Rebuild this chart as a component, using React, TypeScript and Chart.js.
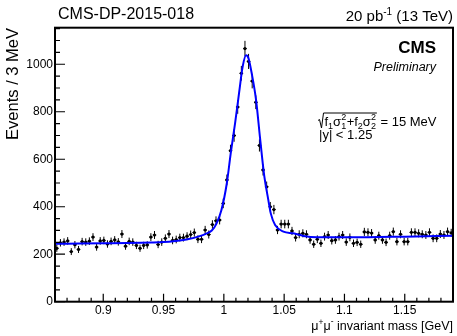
import React, { useEffect, useRef } from "react";
import { Chart, registerables } from "chart.js";
Chart.register(...registerables);

// Histogram binning (3 MeV bins)
const binLow = 0.86;
const binWidth = 0.003;
// Events per 3 MeV bin
const counts = [
  225, 248, 251, 256, 211, 240, 220, 253, 251, 255,
  272, 230, 256, 258, 243, 254, 260, 252, 285, 234,
  254, 251, 237, 225, 237, 239, 272, 281, 241, 251,
  267, 285, 258, 262, 270, 270, 276, 283, 291, 263,
  263, 302, 283, 325, 341, 344, 414, 513, 636, 700,
  820, 962, 1066, 1012, 929, 840, 658, 555, 484, 400,
  388, 302, 327, 327, 327, 298, 270, 284, 288, 284,
  260, 242, 263, 246, 274, 281, 257, 260, 274, 281,
  251, 271, 246, 250, 242, 294, 292, 289, 260, 278,
  260, 250, 278, 295, 253, 284, 253, 253, 292, 292,
  288, 284, 281, 292, 267, 267, 285, 281, 295, 290,
];
// Fit curve
const fitMass = [0.86, 0.88, 0.9, 0.92, 0.94, 0.95, 0.96, 0.97, 0.98, 0.985, 0.99, 0.994, 0.998, 1.0025, 1.0057, 1.0093, 1.0126, 1.0156, 1.0184, 1.0203, 1.0231, 1.0267, 1.03, 1.0335, 1.0369, 1.0389, 1.0425, 1.0494, 1.0576, 1.0659, 1.077, 1.105, 1.15, 1.19];
const fitValue = [244, 245, 246, 247, 249, 251, 256, 263, 276, 286, 300, 330, 386, 500, 625, 751, 878, 990, 1038, 1027, 962, 850, 690, 530, 428, 372, 323, 295, 288, 277, 271, 271, 274, 278];

const xRange = [0.86, 1.19];
const yRange = [0, 1154];
const xTicks = [0.9, 0.95, 1, 1.05, 1.1, 1.15];
const xMinorStep = 0.01;
const yTicks = [0, 200, 400, 600, 800, 1000];
const yMinorStep = 50;

const FONT = "'Liberation Sans', Arial, Helvetica, sans-serif";

type Part = { t: string; size: number; dy?: number; weight?: string; style?: string };
const pf = (p: Part) => `${p.style || "normal"} ${p.weight || "normal"} ${p.size}px ${FONT}`;

function drawParts(ctx: CanvasRenderingContext2D, parts: Part[], x: number, y: number, align: "left" | "right") {
  let w = 0;
  parts.forEach((p) => { ctx.font = pf(p); w += ctx.measureText(p.t).width; });
  let cx = align === "right" ? x - w : x;
  ctx.textAlign = "left";
  ctx.textBaseline = "alphabetic";
  parts.forEach((p) => {
    ctx.font = pf(p);
    ctx.fillText(p.t, cx, y + (p.dy || 0));
    cx += ctx.measureText(p.t).width;
  });
  return cx;
}

const rootStyle = {
  id: "rootStyle",
  beforeDatasetsDraw(chart: any) {
    const ctx: CanvasRenderingContext2D = chart.ctx;
    const xs = chart.scales.x, ys = chart.scales.y;
    ctx.save();
    ctx.strokeStyle = "#000";
    ctx.lineWidth = 1;
    counts.forEach((n, i) => {
      const c = binLow + (i + 0.5) * binWidth;
      const px = xs.getPixelForValue(c);
      const x0 = xs.getPixelForValue(c - binWidth / 2);
      const x1 = xs.getPixelForValue(c + binWidth / 2);
      const e = Math.sqrt(n);
      const py = ys.getPixelForValue(n);
      ctx.beginPath();
      ctx.moveTo(px, ys.getPixelForValue(n + e));
      ctx.lineTo(px, ys.getPixelForValue(n - e));
      ctx.moveTo(x0, py);
      ctx.lineTo(x1, py);
      ctx.stroke();
    });
    ctx.restore();
  },
  afterDraw(chart: any) {
    const ctx: CanvasRenderingContext2D = chart.ctx;
    const { left, right, top, bottom } = chart.chartArea;
    const xs = chart.scales.x, ys = chart.scales.y;
    ctx.save();
    ctx.fillStyle = "#000";
    ctx.strokeStyle = "#000";
    // ticks
    ctx.lineWidth = 1.2;
    ctx.beginPath();
    for (let v = xRange[0]; v <= xRange[1] + 1e-9; v += xMinorStep) {
      const r = Math.round(v * 100) / 100;
      if (r < xRange[0] - 1e-9 || r > xRange[1] + 1e-9) continue;
      const px = xs.getPixelForValue(r);
      const major = xTicks.some((t) => Math.abs(t - r) < 1e-6);
      ctx.moveTo(px, bottom);
      ctx.lineTo(px, bottom - (major ? 8 : 4));
    }
    for (let v = 0; v <= yRange[1]; v += yMinorStep) {
      const py = ys.getPixelForValue(v);
      const major = yTicks.includes(v);
      ctx.moveTo(left, py);
      ctx.lineTo(left + (major ? 10 : 5), py);
    }
    ctx.stroke();
    // frame
    ctx.lineWidth = 2;
    ctx.strokeRect(left, top, right - left, bottom - top);

    // headers
    drawParts(ctx, [{ t: "CMS-DP-2015-018", size: 16 }], 58, 18.5, "left");
    drawParts(ctx, [
      { t: "20 pb", size: 15 },
      { t: "-1", size: 10, dy: -6 },
      { t: " (13 TeV)", size: 15 },
    ], 453, 21, "right");
    drawParts(ctx, [{ t: "CMS", size: 17, weight: "bold" }], 436, 53, "right");
    drawParts(ctx, [{ t: "Preliminary", size: 12.5, style: "italic" }], 436, 71, "right");

    // resolution annotation
    const ab = 125.5;
    const ax = 318;
    let cx = ax + 6.5;
    const put = (t: string, size: number, dy: number) => {
      ctx.font = `${size}px ${FONT}`;
      ctx.textAlign = "left";
      ctx.fillText(t, cx, ab + dy);
      return ctx.measureText(t).width;
    };
    cx += put("f", 13, 0);
    cx += put("1", 9, 3.5);
    cx += put("σ", 13, 0);
    cx += Math.max(put("2", 9, -5.5), put("1", 9, 3.5)) + 0.5;
    cx += put("+f", 13, 0);
    cx += put("2", 9, 3.5);
    cx += put("σ", 13, 0);
    cx += Math.max(put("2", 9, -5.5), put("2", 9, 3.5));
    const xEnd = cx + 1;
    ctx.lineWidth = 1;
    ctx.beginPath();
    ctx.moveTo(ax, ab - 5);
    ctx.lineTo(ax + 1.5, ab - 6);
    ctx.lineTo(ax + 3.5, ab + 2.5);
    ctx.lineTo(ax + 5.5, ab - 12.5);
    ctx.lineTo(xEnd, ab - 12.5);
    ctx.stroke();
    drawParts(ctx, [{ t: " = 15 MeV", size: 13 }], xEnd, ab, "left");
    drawParts(ctx, [{ t: "|y| < 1.25", size: 13 }], 319, 139, "left");

    // axis titles
    drawParts(ctx, [
      { t: "μ", size: 12.5 },
      { t: "+", size: 8.5, dy: -5 },
      { t: "μ", size: 12.5 },
      { t: "-", size: 8.5, dy: -6 },
      { t: " invariant mass [GeV]", size: 12.5 },
    ], 453, 330, "right");
    ctx.save();
    ctx.translate(18, 28);
    ctx.rotate(-Math.PI / 2);
    ctx.font = `16.5px ${FONT}`;
    ctx.textAlign = "right";
    ctx.textBaseline = "alphabetic";
    ctx.fillText("Events / 3 MeV", 0, 0);
    ctx.restore();
    ctx.restore();
  },
};

const fmt = (v: number) => String(Math.round(v * 1000) / 1000);

export default function App() {
  const ref = useRef<HTMLCanvasElement>(null);
  useEffect(() => {
    document.body.style.margin = "0";
    Chart.defaults.font.family = FONT;
    const canvas = ref.current!;
    const chart = new Chart(canvas, {
      type: "scatter",
      data: {
        datasets: [
          {
            label: "fit",
            type: "line",
            data: fitMass.map((m, i) => ({ x: m, y: fitValue[i] })),
            borderColor: "#0000ff",
            borderWidth: 2,
            pointRadius: 0,
            fill: false,
            showLine: true,
            cubicInterpolationMode: "monotone",
          } as any,
          {
            label: "data",
            data: counts.map((n, i) => ({ x: binLow + (i + 0.5) * binWidth, y: n })),
            pointRadius: 1.6,
            pointBackgroundColor: "#000",
            pointBorderColor: "#000",
            pointBorderWidth: 0,
            showLine: false,
          },
        ],
      },
      options: {
        animation: false,
        responsive: false,
        devicePixelRatio: 1,
        layout: { padding: { top: 27.7, right: 4, left: 0, bottom: 0 } },
        plugins: { legend: { display: false }, tooltip: { enabled: false } },
        scales: {
          x: {
            type: "linear",
            min: xRange[0],
            max: xRange[1],
            grid: { display: false, drawTicks: false },
            border: { display: false },
            afterFit: (s: any) => { s.height = 34.3; },
            afterBuildTicks: (s: any) => { s.ticks = xTicks.map((v) => ({ value: v })); },
            ticks: {
              font: { family: FONT, size: 12 },
              color: "#000",
              padding: 1.5,
              maxRotation: 0,
              autoSkip: false,
              callback: (v: any) => fmt(Number(v)),
            },
          },
          y: {
            type: "linear",
            min: yRange[0],
            max: yRange[1],
            grid: { display: false, drawTicks: false },
            border: { display: false },
            afterFit: (s: any) => { s.width = 55; },
            afterBuildTicks: (s: any) => { s.ticks = yTicks.map((v) => ({ value: v })); },
            ticks: {
              font: { family: FONT, size: 12 },
              color: "#000",
              padding: 2,
              autoSkip: false,
              callback: (v: any) => fmt(Number(v)),
            },
          },
        },
      } as any,
      plugins: [rootStyle as any],
    });
    return () => chart.destroy();
  }, []);
  return (
    <div style={{ position: "absolute", left: 0, top: 0, width: 457, height: 336, background: "#fff" }}>
      <canvas ref={ref} width={457} height={336} style={{ display: "block" }} />
    </div>
  );
}
